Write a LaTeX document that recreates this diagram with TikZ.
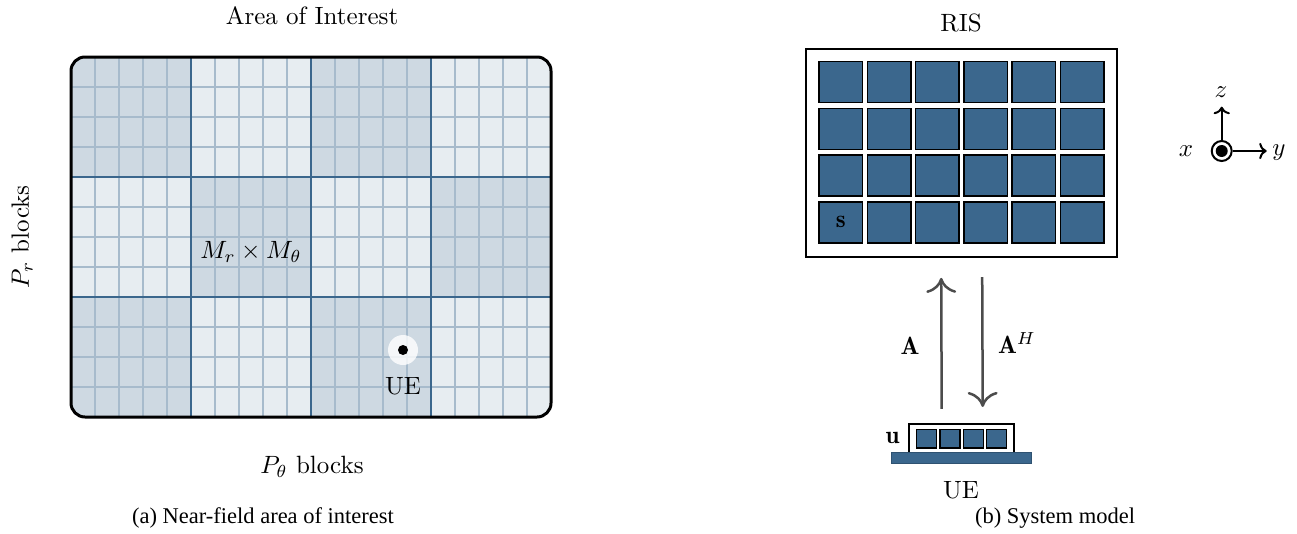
\documentclass[tikz,border=0pt]{standalone}
\usepackage{fontspec}
\newfontfamily\capfont{Liberation Serif}
\usetikzlibrary{arrows.meta,positioning,calc}

\definecolor{risblue}{RGB}{59,103,141}

\begin{document}
\begin{tikzpicture}[
            x=0.4pt, y=-0.4pt,
            darkcell/.style={
                fill=risblue!25
            },
            lightcell/.style={
                fill=risblue!12
            },
            subline/.style={
                draw=risblue!45,
                line width=0.5pt
            },
            bigline/.style={
                draw=risblue,
                line width=0.8pt
            },
            risframe/.style={
                draw,
                thick,
                fill=white,
                minimum width=124.4pt,
                minimum height=83.1pt
            },
            element/.style={
                draw,
                fill=risblue,
                line width=0.6pt,
                inner sep=0pt,
                minimum width=17.4pt,
                minimum height=16.4pt
            },
            uebox/.style={
                draw,
                thick,
                fill=white,
                minimum width=41.9pt,
                minimum height=11.5pt
            },
            ueelem/.style={
                draw,
                fill=risblue,
                line width=0.6pt,
                inner sep=0pt,
                minimum width=8pt,
                minimum height=7.4pt
            },
            plate/.style={
                draw=risblue!80!black,
                line width=0.4pt,
                fill=risblue,
                inner sep=0pt,
                minimum width=56pt,
                minimum height=4.2pt
            },
            uemark/.style={
                circle,
                fill=white,
                fill opacity=0.8,
                inner sep=0pt,
                minimum size=12pt
            },
            link/.style={
                draw=black!70,
                line width=1pt,
                -{To[length=6pt,width=12pt]}
            },
            axis/.style={
                draw,
                line width=0.8pt,
                -{To[length=3pt,width=6.5pt]}
            },
            caption/.style={
                font=\capfont\fontsize{9}{11}\selectfont
            }
        ]

        \useasboundingbox (0,0) rectangle (1297,533);

% Parameters (pixel grid of the reference)
        \def\gx{71}
        \def\gy{57}

% --- (a) area of interest ---
        \begin{scope}
            \clip[rounded corners=5.6pt] (\gx,\gy) rectangle (551,417);
            \foreach \i in {0,...,3} {
                \foreach \j in {0,...,2} {
                    \pgfmathtruncatemacro\odd{mod(\i+\j,2)}
                    \ifnum\odd=0
                        \fill[darkcell] (\gx+120*\i,\gy+120*\j) rectangle ++(120,120);
                    \else
                        \fill[lightcell] (\gx+120*\i,\gy+120*\j) rectangle ++(120,120);
                    \fi
                }
            }
            \foreach \k in {1,...,19} {
                \draw[subline] (\gx+24*\k,\gy) -- ++(0,360);
            }
            \foreach \k in {1,...,11} {
                \draw[subline] (\gx,\gy+30*\k) -- ++(480,0);
            }
            \foreach \k in {1,2,3} {
                \draw[bigline] (\gx+120*\k,\gy) -- ++(0,360);
            }
            \foreach \k in {1,2} {
                \draw[bigline] (\gx,\gy+120*\k) -- ++(480,0);
            }
        \end{scope}
        \draw[very thick, rounded corners=5.6pt] (\gx,\gy) rectangle (551,417);

        \node (aoi) at (312,16) {Area of Interest};
        \node[rotate=90] (prlabel) at (22,237) {$P_r$ blocks};
        \node (ptlabel) at (312,467) {$P_\theta$ blocks};
        \node (mlabel) at (251,252) {$M_r \times M_\theta$};

        \node[uemark] (ue) at (403,350) {};
        \fill (ue.center) circle (2pt);
        \node (uelabel) at (403,386) {UE};

% --- (b) system model ---
        \node (ristitle) at (961,23) {RIS};
        \node[risframe] (ris) at (961.2,153) {};
        \foreach \i in {0,...,5} {
            \foreach \j in {0,...,3} {
                \node[element] (e\i\j) at (840.7+48.3*\i,82.2+46.7*\j) {};
            }
        }
        \node (slabel) at (e03) {$\mathbf{s}$};

        \node[uebox] (uebox) at (961.7,438.3) {};
        \foreach \k in {0,...,3} {
            \node[ueelem] (u\k) at (926.7+23.3*\k,438.5) {};
        }
        \node[plate] (plate) at (961.7,458) {};
        \node[left=0pt of uebox] (ulabel) {$\mathbf{u}$};
        \node (uetext) at (961,490) {UE};

        \draw[link] ([xshift=-8pt,yshift=5.6pt]uebox.north) -- ([xshift=-8pt,yshift=-8pt]ris.south);
        \draw[link] ([xshift=8.4pt,yshift=-7.7pt]ris.south) -- ([xshift=8.4pt,yshift=6.4pt]uebox.north);
        \node (alabel) at (910,346) {$\mathbf{A}$};
        \node (ahlabel) at (1017,343) {$\mathbf{A}^H$};

% Axes
        \node[circle, draw, line width=0.8pt, minimum size=8pt, inner sep=0pt] (orig) at (1221.7,151) {};
        \fill (orig.center) circle (2.4pt);
        \coordinate (yend) at (1266.7,151);
        \coordinate (zend) at (1221.7,106.7);
        \draw[axis] (orig.east) -- (yend);
        \draw[axis] (orig.north) -- (zend);
        \node (xlab) at (1186,151) {$x$};
        \node (ylab) at (1279,152.7) {$y$};
        \node (zlab) at (1221,91.7) {$z$};

% Captions
        \node[caption] (capa) at (263,518) {(a) Near-field area of interest};
        \node[caption] (capb) at (1055,518) {(b) System model};

\end{tikzpicture}
\end{document}
